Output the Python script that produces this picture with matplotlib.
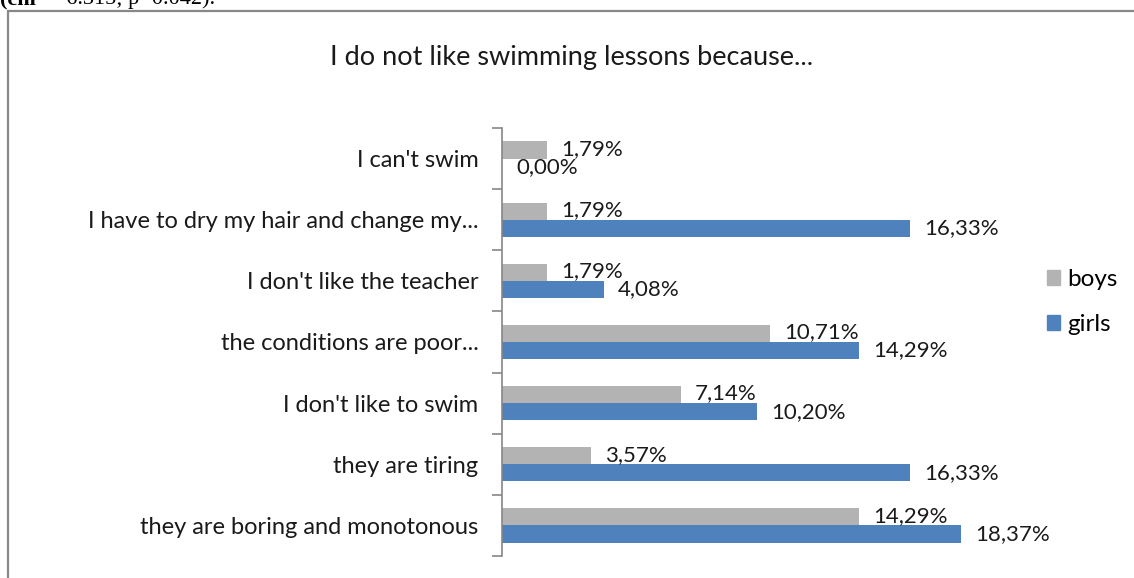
import matplotlib
matplotlib.use("Agg")
import matplotlib.pyplot as plt
import matplotlib.patches as mpatches
import numpy as np

categories = ["I can't swim",
              "I have to dry my hair and change my...",
              "I don't like the teacher",
              "the conditions are poor...",
              "I don't like to swim",
              "they are tiring",
              "they are boring and monotonous"]
boys = [1.79, 1.79, 1.79, 10.71, 7.14, 3.57, 14.29]
girls = [0.00, 16.33, 4.08, 14.29, 10.20, 16.33, 18.37]
title = "I do not like swimming lessons because..."

W, H = 1134, 578
fig = plt.figure(figsize=(W/100, H/100), dpi=100)
plt.rcParams['font.family'] = ['Lato', 'DejaVu Sans']

ax = fig.add_axes([502/W, 1-556/H, 500/W, (556-128)/H])
y = np.arange(len(categories))
bh = 0.28
gray = '#B3B3B3'
blue = '#4F81BD'
ax.barh(y - bh/2, boys, height=bh, color=gray, label='boys')
ax.barh(y + bh/2, girls, height=bh, color=blue, label='girls')

for yi, b, g in zip(y, boys, girls):
    ax.annotate(f"{b:.2f}%".replace('.', ','), (b, yi - bh/2), xytext=(14, 1),
                textcoords='offset pixels', va='center', ha='left', fontsize=16, color='#1a1a1a')
    ax.annotate(f"{g:.2f}%".replace('.', ','), (g, yi + bh/2), xytext=(14, 0),
                textcoords='offset pixels', va='center', ha='left', fontsize=16, color='#1a1a1a')

ax.set_xlim(0, 20)
ax.set_ylim(len(categories) - 0.5, -0.5)
ax.set_yticks(y)
ax.set_yticklabels(categories, fontsize=17, color='#1a1a1a')
ax.tick_params(axis='y', which='major', length=0, pad=17)
ax.set_yticks(np.arange(-0.5, len(categories)), minor=True)
ax.tick_params(axis='y', which='minor', length=7, width=1.2, color='#868686', direction='out')
ax.set_xticks([])
for s in ['top', 'right', 'bottom']:
    ax.spines[s].set_visible(False)
ax.spines['left'].set_color('#868686')
ax.spines['left'].set_linewidth(1.2)

fig.text(572/W, 1-57/H, title, ha='center', va='center', fontsize=19.5, color='#1a1a1a')

# legend
handles = [mpatches.Patch(color=gray), mpatches.Patch(color=blue)]
fig.legend(handles, ['boys', 'girls'], loc='center left', bbox_to_anchor=(1037/W, 1-302/H),
           frameon=False, fontsize=17.5, handlelength=0.55, handleheight=0.55,
           handletextpad=0.3, labelspacing=1.0, borderaxespad=0)

# border
rect = mpatches.Rectangle((8/W, -0.05), 1.2, 1-11/H+0.05, transform=fig.transFigure,
                          fill=False, edgecolor='#888888', lw=1.6, clip_on=False)
fig.patches.append(rect)

# header text (cut off at the top in the reference)
fig.text(0/W, 1-4/H, "(chi", ha='left', va='baseline', fontsize=16,
         family='Liberation Serif', weight='bold', color='black')
fig.text(47/W, 1-4/H, "\u00b2=6.315; p=0.042).", ha='left', va='baseline', fontsize=16,
         family='Liberation Serif', color='black')

fig.savefig('out.png', dpi=100, facecolor='white')
